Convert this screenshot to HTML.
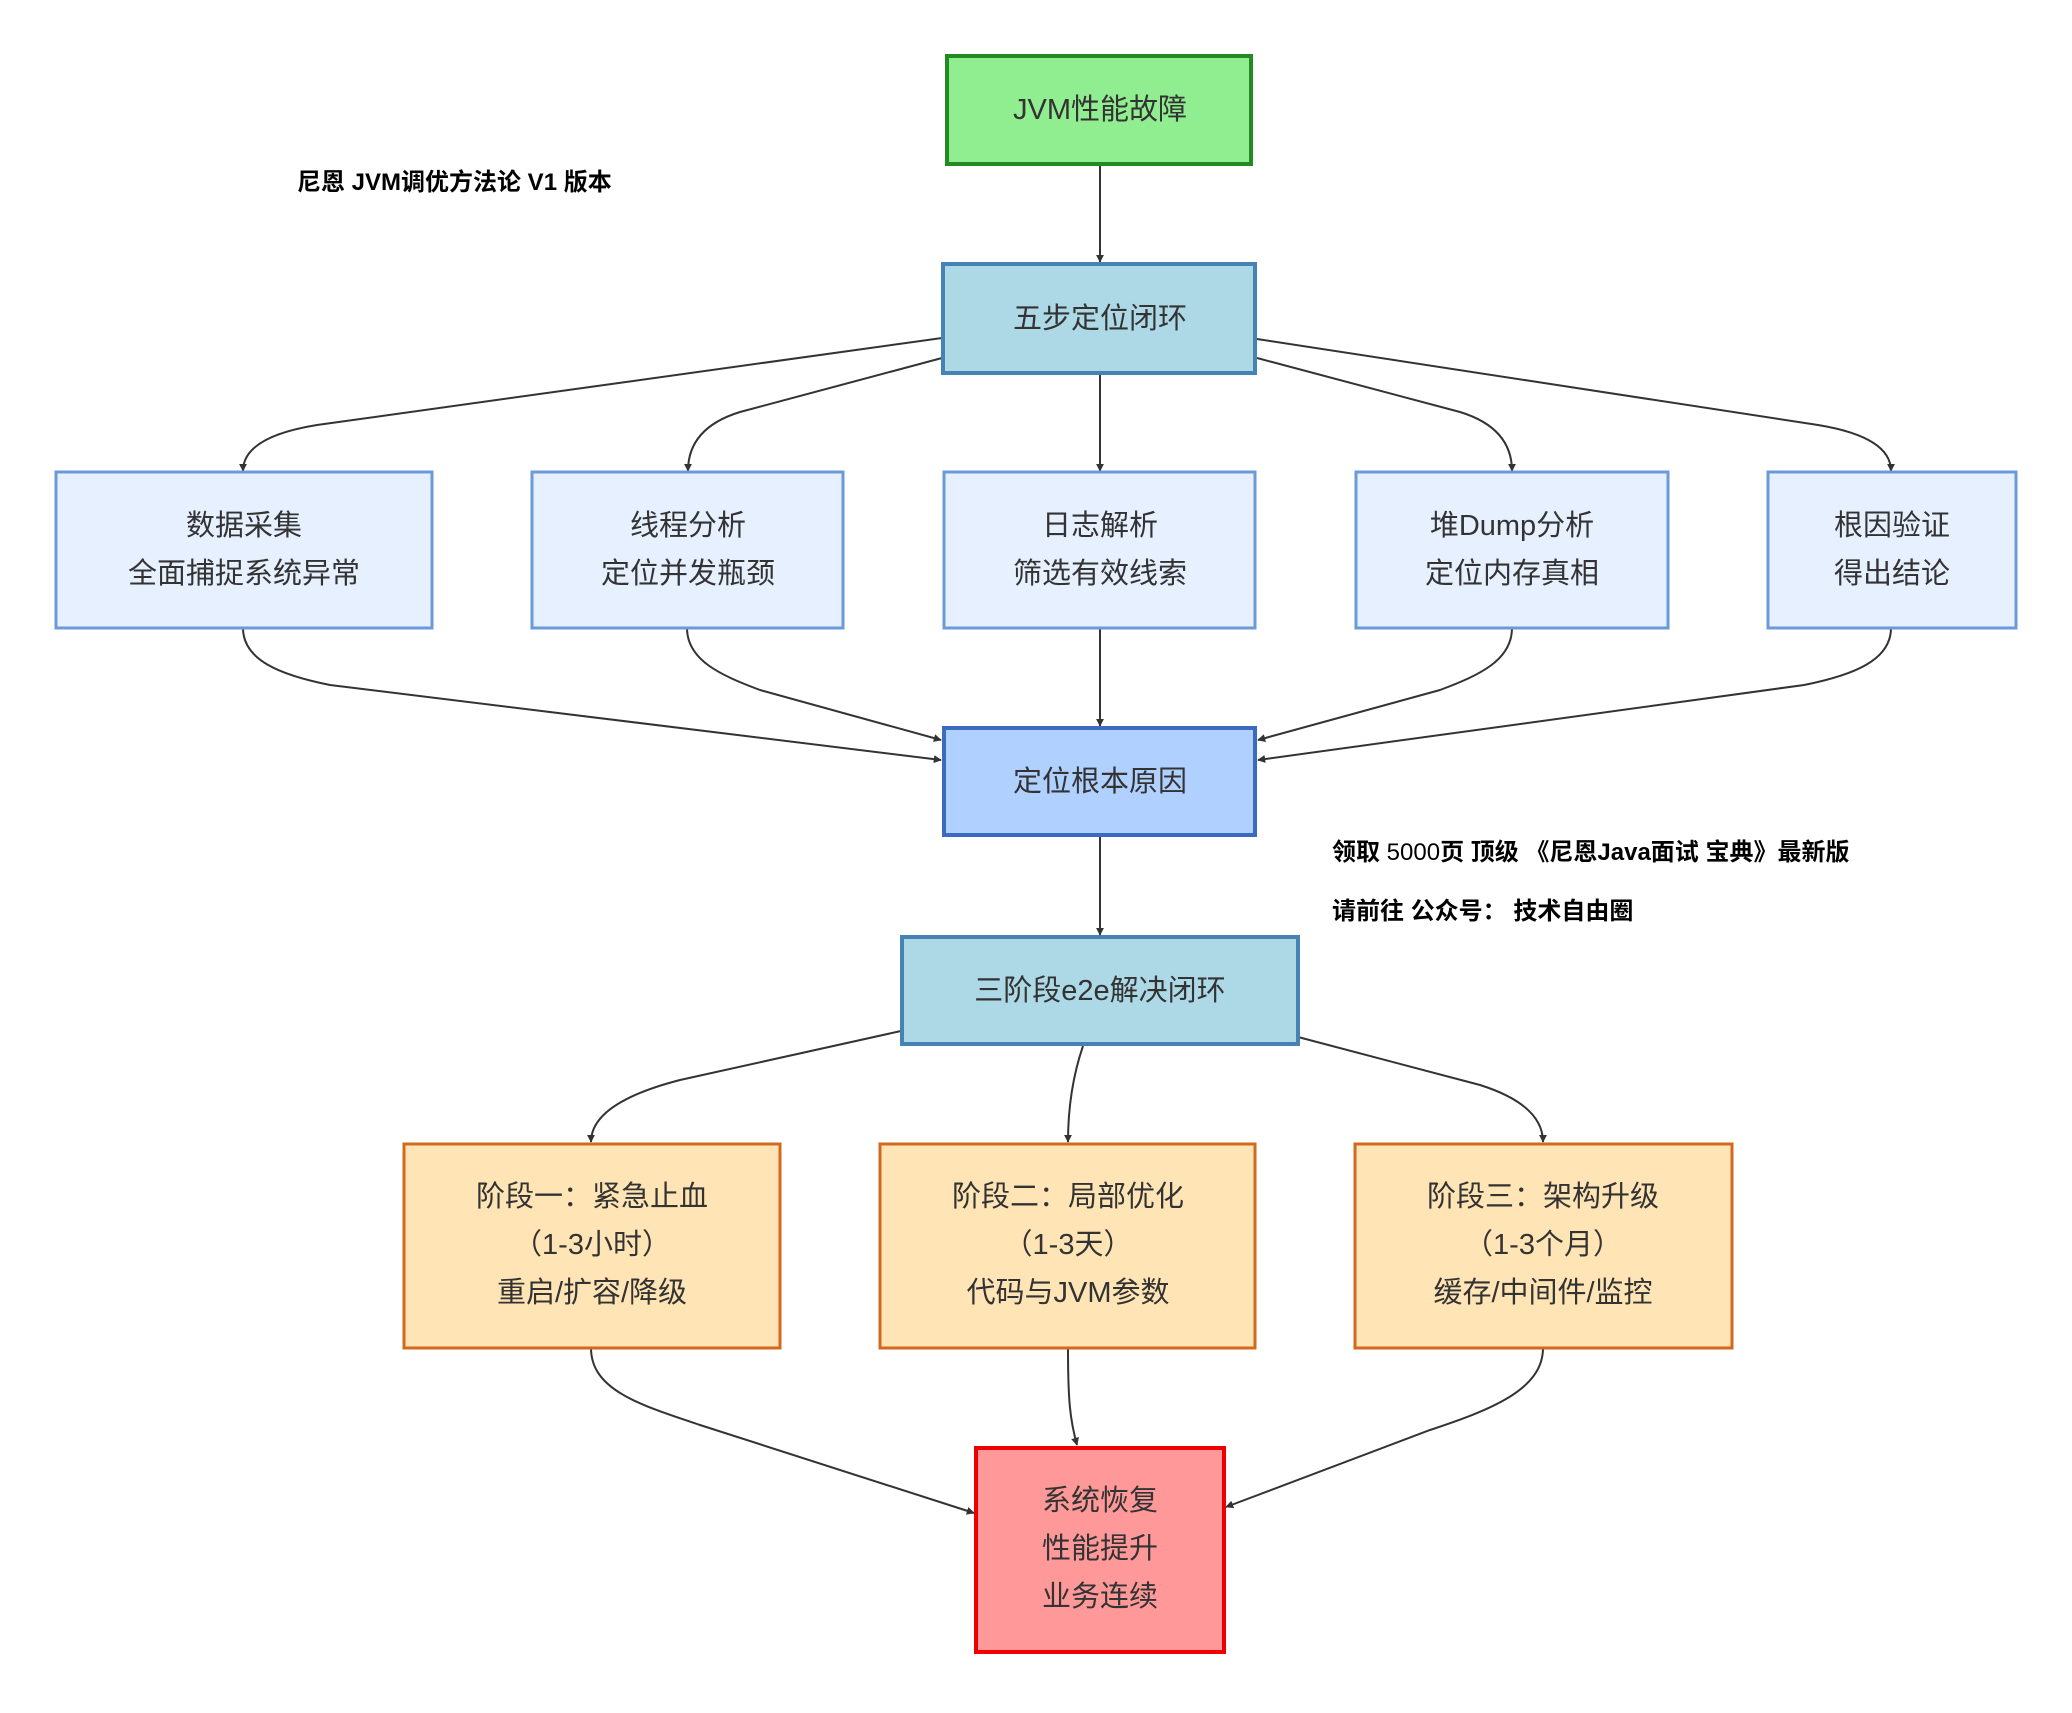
<!DOCTYPE html>
<html><head><meta charset="utf-8"><style>
body{margin:0;background:#fff;}
svg text{font-family:"Liberation Sans","Noto Sans CJK SC",sans-serif;fill:#333;}
</style></head><body>
<svg width="2072" height="1708" viewBox="0 0 2072 1708" xmlns="http://www.w3.org/2000/svg">
<defs><marker id="a" viewBox="0 0 10 10" refX="9" refY="5" markerWidth="8" markerHeight="8" orient="auto-start-reverse" markerUnits="userSpaceOnUse"><path d="M0,0L10,5L0,10z" fill="#333"/></marker></defs>
<rect width="2072" height="1708" fill="#fff"/>
<g fill="none" stroke="#333" stroke-width="2" marker-end="url(#a)">
<path d="M1100,164 L1100,262"/>
<path d="M942,338 L317,425 Q243,437 243,471"/>
<path d="M942,358 L740,412 Q688,428 688,471"/>
<path d="M1100,373 L1100,471"/>
<path d="M1257,358 L1460,412 Q1512,428 1512,471"/>
<path d="M1257,339 L1818,425 Q1891,437 1891,471"/>
<path d="M243,628 C243,660 280,675 330,685 L941,760"/>
<path d="M687,628 C687,660 720,675 760,690 L941,740"/>
<path d="M1100,628 L1100,726"/>
<path d="M1512,628 C1512,660 1480,675 1440,690 L1258,740"/>
<path d="M1891,628 C1891,660 1854,675 1804,685 L1258,760"/>
<path d="M1100,835 L1100,935"/>
<path d="M901,1031 L680,1080 Q591,1103 591,1142"/>
<path d="M1083,1046 Q1068,1090 1068,1142"/>
<path d="M1298,1037 L1480,1085 Q1543,1105 1543,1142"/>
<path d="M591,1348 C591,1390 640,1405 700,1425 L974,1513"/>
<path d="M1068,1348 C1068,1400 1070,1420 1077,1445"/>
<path d="M1543,1348 C1543,1390 1490,1410 1430,1430 L1226,1507"/>
</g>
<rect x="947" y="56" width="304" height="108" fill="#90ee90" stroke="#228b22" stroke-width="4"/>
<text x="1100" y="119" font-size="29" text-anchor="middle">JVM性能故障</text>
<text x="297" y="190" font-size="24" font-weight="bold" fill="#000" style="fill:#000">尼恩  JVM调优方法论 V1 版本</text>
<rect x="943" y="264" width="312" height="109" fill="#add8e6" stroke="#4682b4" stroke-width="4"/>
<text x="1100" y="328" font-size="29" text-anchor="middle">五步定位闭环</text>
<g fill="#e6f0ff" stroke="#6a9bd8" stroke-width="3">
<rect x="56" y="472" width="376" height="156"/>
<rect x="532" y="472" width="311" height="156"/>
<rect x="944" y="472" width="311" height="156"/>
<rect x="1356" y="472" width="312" height="156"/>
<rect x="1768" y="472" width="248" height="156"/>
</g>
<g font-size="29" text-anchor="middle">
<text x="244" y="535">数据采集</text><text x="244" y="583">全面捕捉系统异常</text>
<text x="688" y="535">线程分析</text><text x="688" y="583">定位并发瓶颈</text>
<text x="1100" y="535">日志解析</text><text x="1100" y="583">筛选有效线索</text>
<text x="1512" y="535">堆Dump分析</text><text x="1512" y="583">定位内存真相</text>
<text x="1892" y="535">根因验证</text><text x="1892" y="583">得出结论</text>
</g>
<rect x="944" y="728" width="311" height="107" fill="#b0d0ff" stroke="#3a6bc0" stroke-width="4"/>
<text x="1100" y="791" font-size="29" text-anchor="middle">定位根本原因</text>
<text x="1332" y="860" font-size="24" font-weight="bold" style="fill:#000">领取 <tspan font-weight="normal">5000</tspan>页 顶级 《尼恩Java面试 宝典》最新版</text>
<text x="1332" y="919" font-size="24" font-weight="bold" style="fill:#000">请前往 公众号： 技术自由圈</text>
<rect x="902" y="937" width="396" height="107" fill="#add8e6" stroke="#4682b4" stroke-width="4"/>
<text x="1100" y="1000" font-size="29" text-anchor="middle">三阶段e2e解决闭环</text>
<g fill="#ffe4b5" stroke="#d2691e" stroke-width="3">
<rect x="404" y="1144" width="376" height="204"/>
<rect x="880" y="1144" width="375" height="204"/>
<rect x="1355" y="1144" width="377" height="204"/>
</g>
<g font-size="29" text-anchor="middle">
<text x="592" y="1206">阶段一：紧急止血</text><text x="592" y="1254">（1-3小时）</text><text x="592" y="1302">重启/扩容/降级</text>
<text x="1068" y="1206">阶段二：局部优化</text><text x="1068" y="1254">（1-3天）</text><text x="1068" y="1302">代码与JVM参数</text>
<text x="1543" y="1206">阶段三：架构升级</text><text x="1543" y="1254">（1-3个月）</text><text x="1543" y="1302">缓存/中间件/监控</text>
</g>
<rect x="976" y="1448" width="248" height="204" fill="#ff9999" stroke="#ee0000" stroke-width="4"/>
<g font-size="29" text-anchor="middle">
<text x="1100" y="1510">系统恢复</text><text x="1100" y="1558">性能提升</text><text x="1100" y="1606">业务连续</text>
</g>
</svg>
</body></html>
